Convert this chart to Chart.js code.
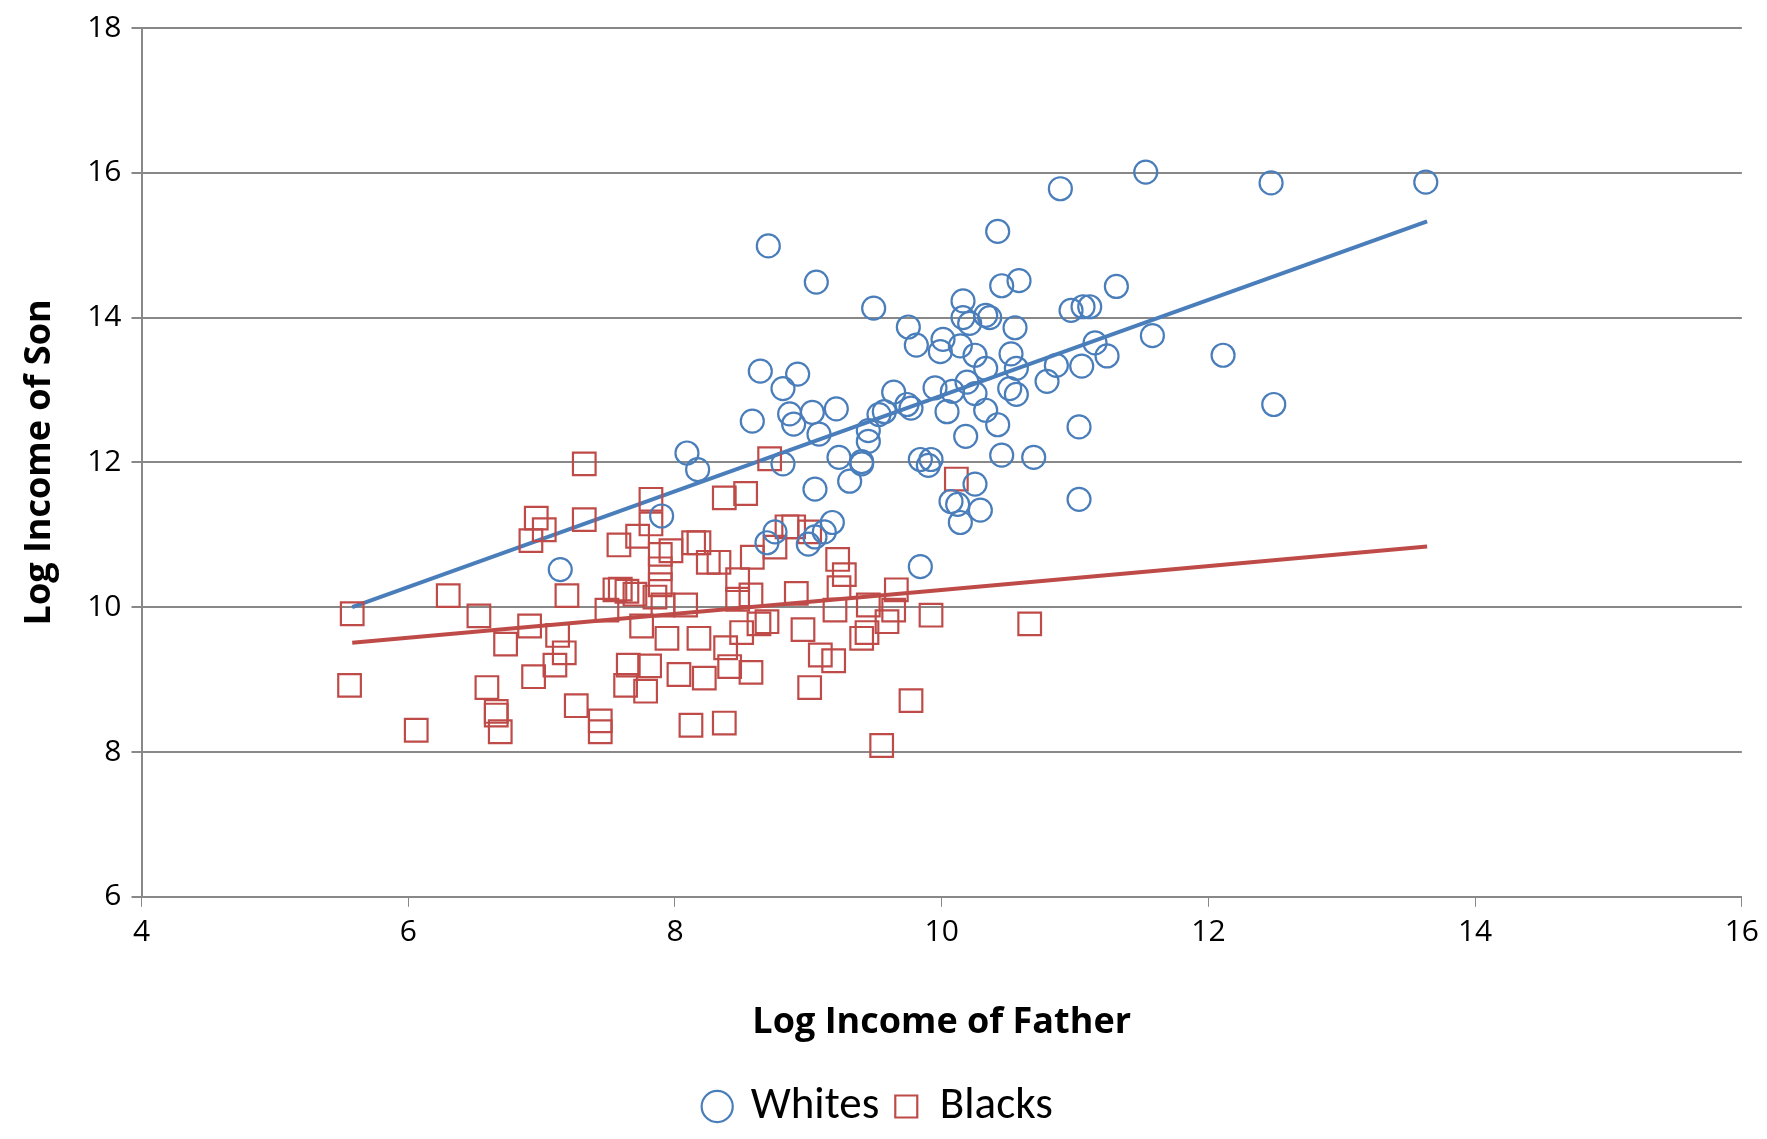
<!DOCTYPE html>
<html><head><meta charset="utf-8">
<script src="https://cdn.jsdelivr.net/npm/chart.js"></script>
<style>html,body{margin:0;padding:0;background:#fff}#w{width:1767px;height:1139px}</style>
</head><body><div id="w"><canvas id="c"></canvas></div>
<script>
const whitesX=[11.53,10.89,12.47,13.63,8.70,10.42,9.06,10.58,10.45,11.31,9.49,10.97,11.06,11.11,10.16,10.16,10.21,10.36,10.33,9.75,10.55,11.15,11.58,9.81,10.01,10.14,9.99,10.25,10.52,11.24,12.11,8.64,8.92,10.33,10.56,10.86,11.05,10.79,8.81,9.95,10.08,10.19,10.25,10.51,10.56,9.64,8.58,8.86,8.89,9.03,9.21,9.53,9.57,9.74,9.77,10.04,10.33,10.42,9.08,9.45,9.45,11.03,12.49,10.18,8.09,8.17,8.81,9.23,9.40,9.40,9.84,9.90,9.92,10.45,10.69,9.31,9.05,10.25,10.07,10.12,10.14,10.29,11.03,7.90,9.18,9.12,9.05,8.75,8.69,9.00,7.14,9.84];
const whitesY=[16.01,15.78,15.86,15.87,14.99,15.19,14.49,14.51,14.44,14.43,14.13,14.10,14.15,14.15,14.23,14.00,13.92,14.00,14.03,13.87,13.86,13.65,13.75,13.62,13.70,13.61,13.53,13.48,13.50,13.47,13.48,13.26,13.22,13.30,13.30,13.34,13.33,13.12,13.02,13.03,12.98,13.11,12.95,13.02,12.94,12.97,12.57,12.67,12.53,12.69,12.74,12.66,12.70,12.80,12.75,12.70,12.72,12.52,12.39,12.44,12.29,12.49,12.80,12.36,12.13,11.90,11.98,12.07,12.01,11.98,12.04,11.96,12.04,12.10,12.07,11.74,11.63,11.70,11.46,11.42,11.17,11.34,11.49,11.26,11.17,11.04,10.97,11.04,10.89,10.87,10.52,10.56];
const blacksX=[5.58,5.56,6.06,6.30,6.53,6.59,6.66,6.66,6.69,6.73,6.91,6.92,6.96,7.02,6.94,7.10,7.12,7.17,7.19,7.26,7.32,7.32,7.44,7.44,7.49,7.58,7.55,7.59,7.64,7.65,7.63,7.70,7.75,7.72,7.78,7.81,7.82,7.82,7.85,7.89,7.89,7.89,7.91,7.94,7.97,8.03,8.08,8.12,8.14,8.18,8.18,8.22,8.25,8.33,8.37,8.37,8.38,8.41,8.47,8.47,8.50,8.53,8.57,8.57,8.58,8.63,8.69,8.71,8.75,8.84,8.89,8.91,8.96,9.01,9.01,9.09,9.19,9.20,9.22,9.23,9.27,9.40,9.44,9.45,9.55,9.59,9.64,9.66,9.77,9.92,10.11,10.66];
const blacksY=[9.91,8.92,8.30,10.16,9.88,8.89,8.56,8.51,8.28,9.49,9.74,10.92,11.23,11.07,9.04,9.20,9.61,9.37,10.16,8.64,11.98,11.21,8.43,8.28,9.96,10.86,10.24,10.25,10.22,9.20,8.92,10.18,9.74,10.98,8.84,9.19,11.49,11.15,10.14,10.73,10.53,10.31,10.03,9.57,10.78,9.07,10.03,8.37,10.89,10.89,9.57,9.02,10.62,10.62,11.51,8.40,9.44,9.18,10.38,10.11,9.65,11.57,10.17,9.10,10.69,9.77,9.80,12.05,10.83,11.11,11.11,10.19,9.69,11.04,8.89,9.34,9.26,9.96,10.66,10.27,10.45,9.57,9.65,10.03,8.09,9.80,9.96,10.24,8.71,9.89,11.77,9.77];
const trendX=[5.58,13.64];
const whitesTrendY=[10.0,15.33];
const blacksTrendY=[9.51,10.84];
const xTicks=[4,6,8,10,12,14,16];
const blue='#4A7EBB', red='#BE4B48';
const pts=(xs,ys)=>xs.map((x,i)=>({x,y:ys[i]}));
new Chart(document.getElementById('c'),{
type:'scatter',
data:{datasets:[
{label:'Whites',data:pts(whitesX,whitesY),pointStyle:'circle',pointRadius:11.5,borderColor:blue,backgroundColor:'rgba(0,0,0,0)',borderWidth:2.2,pointHoverRadius:11.5},
{label:'Blacks',data:pts(blacksX,blacksY),pointStyle:'rect',pointRadius:16,borderColor:red,backgroundColor:'rgba(0,0,0,0)',borderWidth:2.2,pointHoverRadius:16},
{label:'wt',type:'line',data:pts(trendX,whitesTrendY),borderColor:blue,borderWidth:4,pointRadius:0,fill:false},
{label:'bt',type:'line',data:pts(trendX,blacksTrendY),borderColor:red,borderWidth:4,pointRadius:0,fill:false}
]},
options:{responsive:true,maintainAspectRatio:false,animation:false,
layout:{padding:{left:14,right:22,top:10,bottom:0}},
plugins:{tooltip:{enabled:false},
legend:{position:'bottom',labels:{filter:i=>i.text==='Whites'||i.text==='Blacks',usePointStyle:true,font:{family:'Calibri, Carlito, "Open Sans", sans-serif',size:45},color:'#000',padding:16,boxWidth:22,boxHeight:22}}},
scales:{
x:{type:'linear',min:4,max:16,afterBuildTicks:a=>{a.ticks=xTicks.map(v=>({value:v}));},
grid:{drawOnChartArea:false,drawTicks:true,tickLength:10,color:'#888'},border:{color:'#888',width:2},
ticks:{color:'#000',font:{size:30,family:'"Open Sans", sans-serif'},padding:8},
title:{display:true,text:'Log Income of Father',color:'#000',font:{size:36,weight:'bold',family:'"Open Sans", sans-serif'},padding:{top:42,bottom:24}}},
y:{min:6,max:18,ticks:{stepSize:2,color:'#000',font:{size:30,family:'"Open Sans", sans-serif'},padding:10},
grid:{color:'#888',lineWidth:2,drawTicks:true,tickLength:10},border:{color:'#888',width:2},
title:{display:true,text:'Log Income of Son',color:'#000',font:{size:36,weight:'bold',family:'"Open Sans", sans-serif'},padding:{bottom:16}}}
}}});
</script></body></html>
